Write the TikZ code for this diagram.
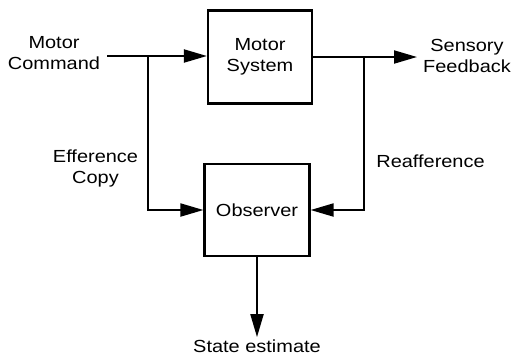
\documentclass[tikz,border=0pt]{standalone}
\usepackage{fontspec}
\setmainfont{Liberation Sans}[FakeStretch=1.14]
\usetikzlibrary{arrows.meta}
\newcommand\dfont{\fontsize{17.5}{20.5}\selectfont}
\begin{document}
\begin{tikzpicture}[x=1pt,y=-1pt,
  box/.style={draw, line width=2.2pt, minimum width=104pt, minimum height=93pt, inner sep=0pt, align=center, font=\dfont},
  lbl/.style={inner sep=2pt, align=center, font=\dfont},
  conn/.style={line width=2pt},
  arr/.style={conn, -{Triangle[length=23pt,width=13pt]}}]
\useasboundingbox (0,0) rectangle (513,357);
\node[box] (ms) at (260,57) {Motor\\System};
\node[box, minimum width=105pt, minimum height=92pt] (obs) at (257,210) {Observer};
\node[lbl] (cmd) at (54,53) {Motor\\Command};
\node[lbl] (sens) at (467,56) {Sensory\\Feedback};
\node[lbl] (eff) at (95.5,168.5) {Efference\\Copy};
\node[lbl, anchor=base] (reaf) at (430.5,167) {Reafference};
\node[lbl, anchor=base] (state) at (257,352) {State estimate};
\coordinate (cin) at (107,56);
\coordinate (jl) at (148,56);
\coordinate (jr) at (364,57);
\coordinate (sout) at (417,57);
\draw[arr] (cin) -- (cin -| ms.west);
\draw[arr] (ms.east) -- (sout);
\draw[arr] (jl) |- (obs.west);
\draw[arr] (jr) |- (obs.east);
\draw[arr] (obs.south) -- (obs.south |- state.north);
\end{tikzpicture}
\end{document}
